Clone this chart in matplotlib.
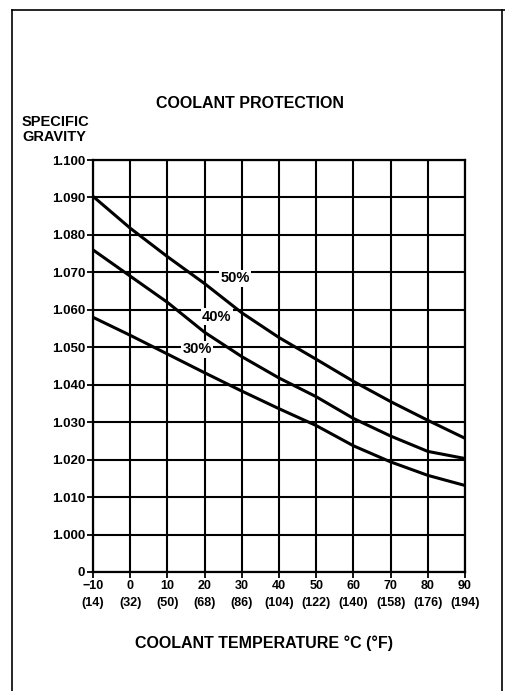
import matplotlib; matplotlib.use('Agg')
import matplotlib.pyplot as plt
from matplotlib.lines import Line2D

plt.rcParams.update({'font.family':['Liberation Sans','DejaVu Sans'],'font.size':9,'font.weight':'bold'})

temps_c=[-10,0,10,20,30,40,50,60,70,80,90]
temps_f=[14,32,50,68,86,104,122,140,158,176,194]
# specific gravity, per glycol concentration
sg_50=[1.0903,1.0818,1.0742,1.0670,1.0592,1.0526,1.0468,1.0409,1.0355,1.0305,1.0257]
sg_40=[1.0760,1.0690,1.0620,1.0540,1.0475,1.0418,1.0368,1.0310,1.0263,1.0222,1.0203]
sg_30=[1.0580,1.0532,1.0482,1.0432,1.0383,1.0336,1.0291,1.0237,1.0194,1.0158,1.0131]
curve_labels=['50%','40%','30%']
label_pos=[(28.2,1.0684),(23.3,1.0581),(18.0,1.0495)]
y_ticks=[0.990,1.000,1.010,1.020,1.030,1.040,1.050,1.060,1.070,1.080,1.090,1.100]
y_tick_labels=['0','1.000','1.010','1.020','1.030','1.040','1.050','1.060','1.070','1.080','1.090','1.100']

fig=plt.figure(figsize=(5.05,6.91),dpi=100)
ax=fig.add_axes([93/505,1-572/691,372/505,412/691])
ax.set_xlim(-10,90); ax.set_ylim(0.990,1.100)
ax.set_xticks(temps_c)
ax.set_xticklabels([f'{c:d}'.replace('-','\u2212')+f'\n({f})' for c,f in zip(temps_c,temps_f)],linespacing=1.55,fontsize=9)
ax.set_yticks(y_ticks); ax.set_yticklabels(y_tick_labels,fontsize=9.5)
ax.grid(True,color='black',lw=1.5)
for s in ax.spines.values(): s.set_linewidth(1.6); s.set_color('black')
ax.tick_params(direction='out',length=4,width=1.3,pad=1.5,colors='black')

for ys in (sg_50,sg_40,sg_30):
    ax.plot(temps_c,ys,color='black',lw=2.2,solid_capstyle='round',zorder=3)
for lab,(x,y) in zip(curve_labels,label_pos):
    ax.text(x,y,lab,ha='center',va='center',fontsize=10.5,zorder=4,
            bbox=dict(facecolor='white',edgecolor='none',pad=1.0))

fig.text(250/505,1-103/691,'COOLANT PROTECTION',ha='center',va='center',fontsize=11.5)
fig.text(22/505,1-122/691,'SPECIFIC',ha='left',va='center',fontsize=10.5)
fig.text(22/505,1-137/691,'GRAVITY',ha='left',va='center',fontsize=10.5)
fig.text(264/505,1-643/691,'COOLANT TEMPERATURE °C (°F)',ha='center',va='center',fontsize=11.5)

# scanned page frame
for xs,ys in [((12,12),(10,691)),((12,505),(10,10)),((502,502),(10,691))]:
    fig.add_artist(Line2D([x/505 for x in xs],[1-y/691 for y in ys],color='black',lw=1.2,transform=fig.transFigure))

fig.savefig('out.png',dpi=100)
